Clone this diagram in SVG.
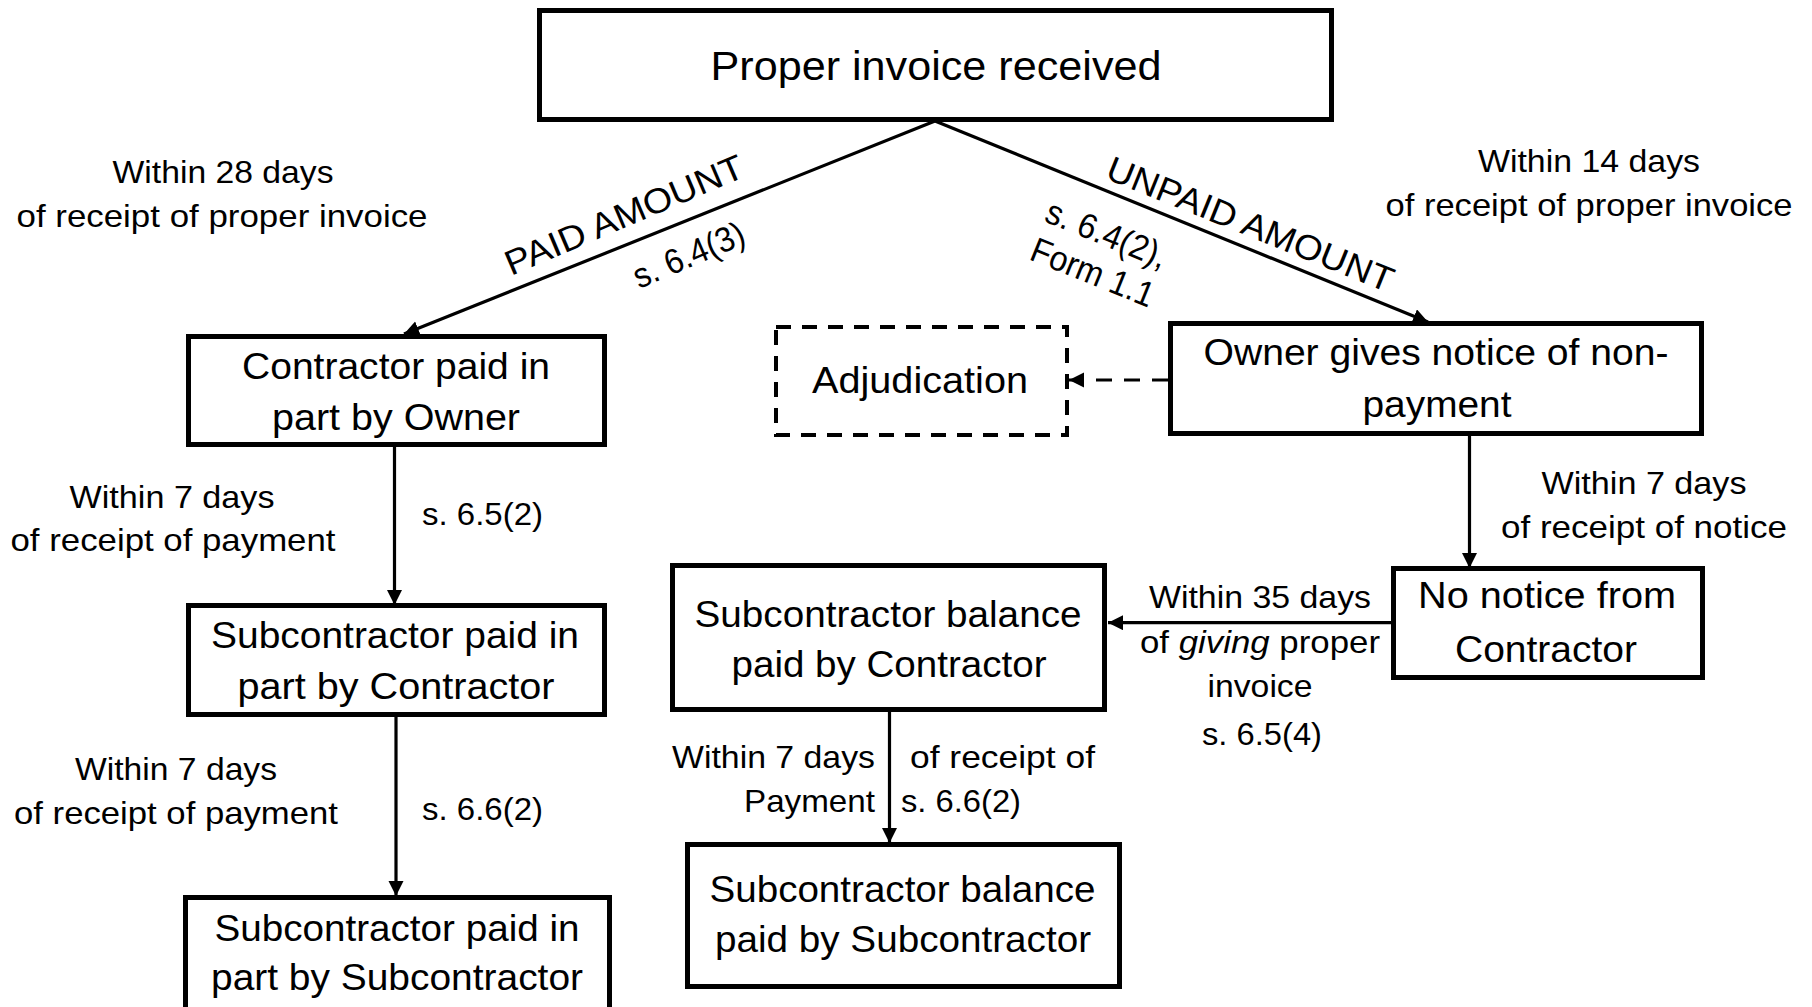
<svg xmlns="http://www.w3.org/2000/svg" width="1812" height="1007" viewBox="0 0 1812 1007">
<style>
  .box { fill: #ffffff; stroke: #000000; stroke-width: 5; }
  .dbox { fill: #ffffff; stroke: #000000; stroke-width: 4; stroke-dasharray: 15 11; }
  .node { font-family: "Liberation Sans", Arial, sans-serif; font-size: 37px; fill: #000000; text-anchor: middle; }
  .top { font-size: 40px; }
  .lbl { font-family: "Liberation Sans", Arial, sans-serif; font-size: 32px; fill: #000000; }
  .rot { font-size: 35px; }
  .mid { text-anchor: middle; }
  .end { text-anchor: end; }
  .conn { stroke: #000000; stroke-width: 3.2; fill: none; }
  .dash { stroke-dasharray: 16 12; }
</style>
<defs>
  <marker id="arrow" markerUnits="userSpaceOnUse" markerWidth="16" markerHeight="16" refX="15" refY="7.5" orient="auto">
    <path d="M0,0 L15,7.5 L0,15 z" fill="#000000"/>
  </marker>
</defs>
<rect width="1812" height="1007" fill="#ffffff"/>

<g id="connectors">
  <line class="conn" x1="935" y1="121" x2="404" y2="334" marker-end="url(#arrow)"/>
  <line class="conn" x1="935" y1="121" x2="1428" y2="322" marker-end="url(#arrow)"/>
  <line class="conn" x1="394.5" y1="447" x2="394.5" y2="605" marker-end="url(#arrow)"/>
  <line class="conn" x1="396" y1="717" x2="396" y2="896" marker-end="url(#arrow)"/>
  <line class="conn" x1="1469.5" y1="435" x2="1469.5" y2="568" marker-end="url(#arrow)"/>
  <line class="conn" x1="1391" y1="622.7" x2="1108" y2="622.7" marker-end="url(#arrow)"/>
  <line class="conn" x1="889.5" y1="712" x2="889.5" y2="843" marker-end="url(#arrow)"/>
  <line class="conn dash" x1="1168" y1="380" x2="1069" y2="380" marker-end="url(#arrow)"/>

  <text class="lbl rot" transform="translate(511,276) rotate(-23)" textLength="256" lengthAdjust="spacingAndGlyphs">PAID AMOUNT</text>
  <text class="lbl rot" transform="translate(639,289) rotate(-23)" textLength="118" lengthAdjust="spacingAndGlyphs">s. 6.4(3)</text>
  <text class="lbl rot" transform="translate(1104,178) rotate(22)" textLength="306" lengthAdjust="spacingAndGlyphs">UNPAID AMOUNT</text>
  <text class="lbl rot" transform="translate(1043,221) rotate(22)" textLength="128" lengthAdjust="spacingAndGlyphs">s. 6.4(2),</text>
  <text class="lbl rot" transform="translate(1028,259) rotate(22)" textLength="130" lengthAdjust="spacingAndGlyphs">Form 1.1</text>

  <text class="lbl mid" x="223" y="183" textLength="221" lengthAdjust="spacingAndGlyphs">Within 28 days</text>
  <text class="lbl mid" x="222" y="227" textLength="411" lengthAdjust="spacingAndGlyphs">of receipt of proper invoice</text>
  <text class="lbl mid" x="1589" y="172" textLength="222" lengthAdjust="spacingAndGlyphs">Within 14 days</text>
  <text class="lbl mid" x="1589" y="216" textLength="407" lengthAdjust="spacingAndGlyphs">of receipt of proper invoice</text>

  <text class="lbl mid" x="172" y="508" textLength="205" lengthAdjust="spacingAndGlyphs">Within 7 days</text>
  <text class="lbl mid" x="173" y="551" textLength="325" lengthAdjust="spacingAndGlyphs">of receipt of payment</text>
  <text class="lbl" x="422" y="525" textLength="121" lengthAdjust="spacingAndGlyphs">s. 6.5(2)</text>

  <text class="lbl mid" x="176" y="780" textLength="202" lengthAdjust="spacingAndGlyphs">Within 7 days</text>
  <text class="lbl mid" x="176" y="824" textLength="324" lengthAdjust="spacingAndGlyphs">of receipt of payment</text>
  <text class="lbl" x="422" y="820" textLength="121" lengthAdjust="spacingAndGlyphs">s. 6.6(2)</text>

  <text class="lbl mid" x="1644" y="494" textLength="205" lengthAdjust="spacingAndGlyphs">Within 7 days</text>
  <text class="lbl mid" x="1644" y="538" textLength="286" lengthAdjust="spacingAndGlyphs">of receipt of notice</text>

  <text class="lbl mid" x="1260" y="608" textLength="222" lengthAdjust="spacingAndGlyphs">Within 35 days</text>
  <text class="lbl mid" x="1260" y="653" textLength="240" lengthAdjust="spacingAndGlyphs">of <tspan font-style="italic">giving</tspan> proper</text>
  <text class="lbl mid" x="1260" y="697" textLength="105" lengthAdjust="spacingAndGlyphs">invoice</text>
  <text class="lbl mid" x="1262" y="745" textLength="120" lengthAdjust="spacingAndGlyphs">s. 6.5(4)</text>

  <text class="lbl end" x="875" y="768" textLength="203" lengthAdjust="spacingAndGlyphs">Within 7 days</text>
  <text class="lbl end" x="875" y="812" textLength="131" lengthAdjust="spacingAndGlyphs">Payment</text>
  <text class="lbl" x="910" y="768" textLength="185" lengthAdjust="spacingAndGlyphs">of receipt of</text>
  <text class="lbl" x="901" y="812" textLength="120" lengthAdjust="spacingAndGlyphs">s. 6.6(2)</text>
</g>

<g id="node-invoice">
  <rect class="box" x="539.5" y="10.5" width="792" height="109"/>
  <text class="node top" x="936" y="80" textLength="451" lengthAdjust="spacingAndGlyphs">Proper invoice received</text>
</g>

<g id="node-contractor-paid">
  <rect class="box" x="188.5" y="336.5" width="416" height="108"/>
  <text class="node" x="396" y="379" textLength="308" lengthAdjust="spacingAndGlyphs">Contractor paid in</text>
  <text class="node" x="396" y="430" textLength="248" lengthAdjust="spacingAndGlyphs">part by Owner</text>
</g>

<g id="node-sub-paid-by-contractor">
  <rect class="box" x="188.5" y="605.5" width="416" height="109"/>
  <text class="node" x="395" y="648" textLength="368" lengthAdjust="spacingAndGlyphs">Subcontractor paid in</text>
  <text class="node" x="396" y="699" textLength="317" lengthAdjust="spacingAndGlyphs">part by Contractor</text>
</g>

<g id="node-sub-paid-by-sub">
  <rect class="box" x="185.5" y="897.5" width="424" height="120"/>
  <text class="node" x="397" y="941" textLength="365" lengthAdjust="spacingAndGlyphs">Subcontractor paid in</text>
  <text class="node" x="397" y="990" textLength="372" lengthAdjust="spacingAndGlyphs">part by Subcontractor</text>
</g>

<g id="node-adjudication">
  <rect class="dbox" x="776" y="327" width="291" height="108"/>
  <text class="node" x="920" y="393" textLength="216" lengthAdjust="spacingAndGlyphs">Adjudication</text>
</g>

<g id="node-owner-notice">
  <rect class="box" x="1170.5" y="323.5" width="531" height="110"/>
  <text class="node" x="1436" y="365" textLength="465" lengthAdjust="spacingAndGlyphs">Owner gives notice of non-</text>
  <text class="node" x="1437" y="417" textLength="149" lengthAdjust="spacingAndGlyphs">payment</text>
</g>

<g id="node-no-notice">
  <rect class="box" x="1393.5" y="568.5" width="309" height="109"/>
  <text class="node" x="1547" y="608" textLength="258" lengthAdjust="spacingAndGlyphs">No notice from</text>
  <text class="node" x="1546" y="662" textLength="182" lengthAdjust="spacingAndGlyphs">Contractor</text>
</g>

<g id="node-balance-by-contractor">
  <rect class="box" x="672.5" y="565.5" width="432" height="144"/>
  <text class="node" x="888" y="627" textLength="387" lengthAdjust="spacingAndGlyphs">Subcontractor balance</text>
  <text class="node" x="889" y="677" textLength="315" lengthAdjust="spacingAndGlyphs">paid by Contractor</text>
</g>

<g id="node-balance-by-sub">
  <rect class="box" x="687.5" y="844.5" width="432" height="142"/>
  <text class="node" x="902.5" y="902" textLength="386" lengthAdjust="spacingAndGlyphs">Subcontractor balance</text>
  <text class="node" x="903" y="952" textLength="376" lengthAdjust="spacingAndGlyphs">paid by Subcontractor</text>
</g>
</svg>
